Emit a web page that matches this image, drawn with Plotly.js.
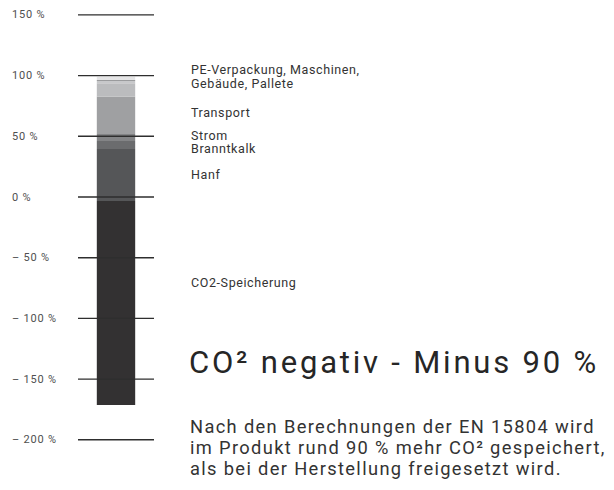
<!DOCTYPE html>
<html>
<head>
<meta charset="utf-8">
<script src="https://cdn.plot.ly/plotly-3.0.1.min.js"></script>
<style>
  html, body { margin: 0; padding: 0; background: #ffffff; }
  #chart { width: 614px; height: 490px; }
</style>
</head>
<body>
<div id="chart"></div>
<script>
// ---- data ----
const categories = ['Hanfprodukt'];
const segmentNames = ['CO2-Speicherung', 'Hanf', 'Branntkalk', 'Strom', 'Transport', 'Pallete', 'Gebäude', 'Maschinen', 'PE-Verpackung'];
const segmentValues = [-168.0, 42.8, 6.6, 5.8, 30.7, 11.0, 1.9, 0.8, 2.7];
const stackStart = -3.3;
const tickValues = [150, 100, 50, 0, -50, -100, -150, -200];
const tickLabels = ['150 %', '100 %', '50 %', '0 %', '– 50 %', '– 100 %', '– 150 %', '– 200 %'];
const sideLabels = ['PE-Verpackung, Maschinen,', 'Gebäude, Pallete', 'Transport', 'Strom', 'Branntkalk', 'Hanf', 'CO2-Speicherung'];
const headline = 'CO² negativ - Minus 90 %';
const bodyLines = ['Nach den Berechnungen der EN 15804 wird', 'im Produkt rund 90 % mehr CO² gespeichert,', 'als bei der Herstellung freigesetzt wird.'];

// ---- styles ----
const segmentColors = ['#333132', '#555658', '#6b6c6e', '#838486', '#9fa0a2', '#bbbcbe', '#c7c8ca', '#9a9b9d', '#e5e5e6'];
const sideLabelPx = [69.5, 83.2, 112.2, 135.3, 148.4, 174.8, 282.8];
const bodyLinePx = [426.6, 447.6, 468.2];
const W = 614, H = 490;

const traces = [];
let running = stackStart;
segmentValues.forEach((v, i) => {
  let base;
  if (v < 0) { base = stackStart; }
  else { base = running; running += v; }
  traces.push({
    type: 'bar',
    name: segmentNames[i],
    x: [0],
    y: [v],
    base: [base],
    width: [1.01],
    marker: { color: segmentColors[i], line: { width: 0 } },
    hoverinfo: 'skip',
    showlegend: false
  });
});

const shapes = tickValues.map(t => ({
  type: 'line', xref: 'x', yref: 'y',
  x0: -1.0, x1: 1.0, y0: t, y1: t,
  line: { color: '#2e2e2e', width: 1.4 },
  layer: 'above'
}));

const annotations = [];
const spacing = [];
tickValues.forEach((t, i) => {
  annotations.push({
    xref: 'paper', yref: 'y', x: 10 / W, y: t,
    xanchor: 'left', yanchor: 'middle', align: 'left', showarrow: false,
    text: tickLabels[i],
    font: { family: 'Roboto', size: 11, color: '#4f4f4f' }
  });
  spacing.push(0.8);
});
sideLabels.forEach((s, i) => {
  annotations.push({
    xref: 'paper', yref: 'paper', x: 189 / W, y: 1 - sideLabelPx[i] / H,
    xanchor: 'left', yanchor: 'middle', align: 'left', showarrow: false,
    text: s,
    font: { family: 'Roboto', size: 12.5, color: '#333333' }
  });
  spacing.push(0.6);
});
annotations.push({
  xref: 'paper', yref: 'paper', x: 187 / W, y: 1 - 362.5 / H,
  xanchor: 'left', yanchor: 'middle', align: 'left', showarrow: false,
  text: headline,
  font: { family: 'Roboto', size: 31, color: '#262626' }
});
spacing.push(2.8);
bodyLines.forEach((s, i) => {
  annotations.push({
    xref: 'paper', yref: 'paper', x: 188 / W, y: 1 - bodyLinePx[i] / H,
    xanchor: 'left', yanchor: 'middle', align: 'left', showarrow: false,
    text: s,
    font: { family: 'Roboto', size: 18.3, color: '#333333' }
  });
  spacing.push(1.35);
});

// letter-spacing to approximate the wide DIN-like face of the original
const styleEl = document.createElement('style');
styleEl.textContent = spacing.map((sp, i) =>
  '.annotation[data-index="' + i + '"] text { letter-spacing: ' + sp + 'px; }').join('\n');
document.head.appendChild(styleEl);

const layout = {
  width: W, height: H,
  margin: { l: 0, r: 0, t: 0, b: 0, pad: 0 },
  paper_bgcolor: '#ffffff', plot_bgcolor: '#ffffff',
  barmode: 'overlay',
  xaxis: { domain: [78 / W, 154 / W], range: [-1, 1], visible: false, fixedrange: true },
  yaxis: { domain: [0, 1], range: [(197 - H) / 1.214, 197 / 1.214], visible: false, fixedrange: true },
  shapes: shapes,
  annotations: annotations,
  showlegend: false
};

Plotly.newPlot('chart', traces, layout, { displayModeBar: false, staticPlot: true });
</script>
</body>
</html>
